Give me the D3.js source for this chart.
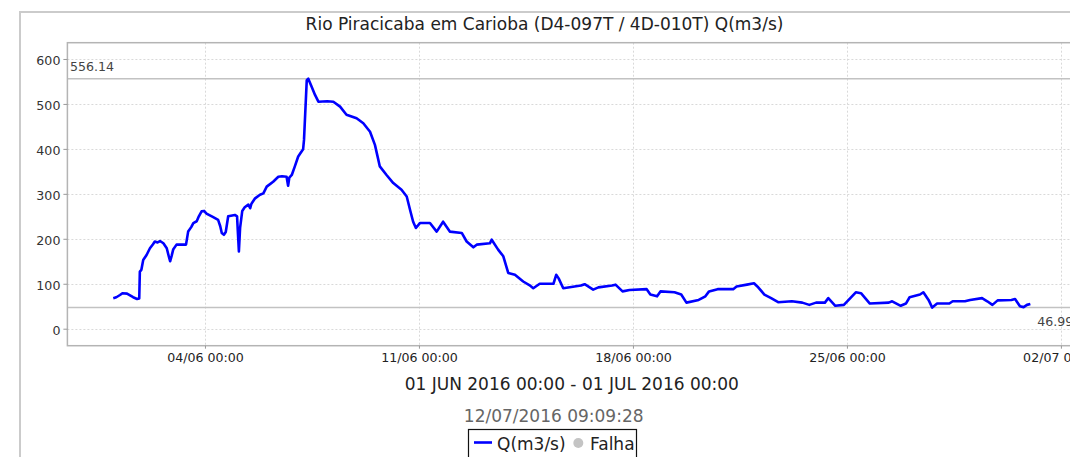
<!DOCTYPE html>
<html>
<head>
<meta charset="utf-8">
<script src="https://cdn.jsdelivr.net/npm/d3@7"></script>
<style>
  body { margin: 0; background: #fff; overflow: hidden; }
  svg { display: block; font-family: "DejaVu Sans", sans-serif; }
</style>
</head>
<body>
<svg id="chart" width="1070" height="457"></svg>
<script>
// ---- data -------------------------------------------------------------
const chartTitle = "Rio Piracicaba em Carioba (D4-097T / 4D-010T) Q(m3/s)";
const periodLabel = "01 JUN 2016 00:00 - 01 JUL 2016 00:00";
const generatedAt = "12/07/2016 09:09:28";
const seriesName = "Q(m3/s)";
const failureName = "Falha";

const periodStart = "2016-06-01T00:00:00Z";
const periodEnd = "2016-07-01T00:00:00Z";

// time of each reading, in days after periodStart
const dayOffsets = [
  0.00, 0.10, 0.22, 0.30, 0.45, 0.55, 0.65, 0.78, 0.85, 0.87,
  0.92, 0.98, 1.09, 1.20, 1.30, 1.36, 1.45, 1.53, 1.64, 1.75,
  1.82, 1.86, 1.91, 1.96, 2.07, 2.38, 2.45, 2.55, 2.62, 2.73,
  2.80, 2.89, 2.97, 3.05, 3.27, 3.43, 3.50, 3.55, 3.62, 3.68,
  3.76, 3.98, 4.05, 4.08, 4.11, 4.15, 4.22, 4.30, 4.42, 4.48,
  4.52, 4.64, 4.80, 4.91, 5.02, 5.23, 5.40, 5.52, 5.67, 5.72,
  5.76, 5.84, 5.94, 6.05, 6.21, 6.24, 6.33, 6.38, 6.49, 6.60,
  6.71, 7.00, 7.20, 7.42, 7.63, 7.96, 8.18, 8.40, 8.56, 8.64,
  8.72, 8.94, 9.16, 9.43, 9.60, 9.71, 9.81, 9.90, 10.03, 10.36,
  10.58, 10.79, 11.01, 11.40, 11.56, 11.78, 11.89, 12.32, 12.38, 12.59,
  12.76, 12.92, 13.14, 13.41, 13.61, 13.74, 13.95, 14.40, 14.49, 14.57,
  14.72, 15.30, 15.42, 15.70, 15.87, 16.32, 16.43, 16.66, 16.89, 17.45,
  17.57, 17.79, 17.90, 18.36, 18.58, 18.75, 19.15, 19.37, 19.49, 19.77,
  20.28, 20.39, 20.73, 20.96, 21.07, 21.30, 21.52, 21.75, 22.20, 22.54,
  22.77, 22.99, 23.28, 23.39, 23.62, 23.90, 24.01, 24.29, 24.46, 24.75,
  25.37, 25.48, 25.76, 25.93, 26.05, 26.39, 26.50, 26.67, 26.79, 26.95,
  27.35, 27.46, 27.86, 28.03, 28.42, 28.59, 28.76, 28.93, 29.38, 29.50,
  29.66, 29.78, 29.89, 30.00
];

// discharge Q (m3/s) at each reading
const flowValues = [
  68, 70, 75, 79, 78, 74, 70, 66, 67, 127,
  131, 153, 164, 179, 188, 194, 192, 195, 190, 179,
  160, 150, 162, 176, 187, 187, 216, 226, 235, 239,
  250, 261, 262, 256, 248, 242, 228, 213, 209, 215,
  250, 253, 250, 210, 172, 225, 262, 270, 276, 268,
  278, 290, 298, 301, 316, 327, 338, 339, 338, 318,
  336, 342, 361, 383, 399, 420, 553, 556.14, 538, 520,
  505, 506, 505, 494, 476, 468, 457, 438, 409, 385,
  361, 342, 324, 309, 294, 264, 238, 224, 235, 235,
  216, 238, 216, 213, 194, 181, 187, 190, 198, 176,
  161, 124, 120, 105, 97, 90, 100, 100, 120, 112,
  90, 96, 99, 87, 92, 96, 98, 83, 86, 88,
  76, 72, 83, 81, 76, 58, 64, 72, 83, 88,
  88, 94, 98, 101, 94, 76, 68, 59, 61, 58,
  53, 58, 58, 68, 51, 53, 61, 81, 79, 56,
  58, 61, 51, 56, 70, 76, 81, 64, 46.99, 56,
  56, 61, 61, 64, 68, 61, 53, 63, 64, 66,
  50, 48, 53, 55
];

const yTickValues = [0, 100, 200, 300, 400, 500, 600];
const xTickDates = ["2016-06-04T00:00:00Z", "2016-06-11T00:00:00Z", "2016-06-18T00:00:00Z",
                    "2016-06-25T00:00:00Z", "2016-07-02T00:00:00Z"];

// ---- layout -----------------------------------------------------------
const svg = d3.select("#chart");
const plot = { left: 67.4, top: 42.7, right: 1076.2, bottom: 345.7 };
const DAY = 86400000;

const t0 = new Date(periodStart).getTime();
const t1 = new Date(periodEnd).getTime();
const margin = (t1 - t0) * 0.05;

const x = d3.scaleUtc()
  .domain([new Date(t0 - margin), new Date(t1 + margin)])
  .range([plot.left, plot.right]);

const y = d3.scaleLinear()
  .domain([-37.8, 636.2])
  .range([plot.bottom, plot.top]);

const points = dayOffsets.map((d, i) => ({ t: new Date(t0 + d * DAY), v: flowValues[i] }));
const maxFlow = d3.max(flowValues);
const minFlow = d3.min(flowValues);

// outer frame
svg.append("rect")
  .attr("x", 20).attr("y", 12)
  .attr("width", 1120).attr("height", 500)
  .attr("fill", "none").attr("stroke", "#cbcbcb").attr("stroke-width", 2);

// title
svg.append("text")
  .attr("x", 544.5).attr("y", 30)
  .attr("text-anchor", "middle")
  .attr("font-size", 17).attr("fill", "#222")
  .text(chartTitle);

// gridlines
const grid = svg.append("g").attr("stroke", "#d9d9d9").attr("stroke-width", 1)
  .attr("stroke-dasharray", "2,2");
grid.selectAll("line.h").data(yTickValues).join("line")
  .attr("x1", plot.left).attr("x2", plot.right)
  .attr("y1", d => Math.round(y(d)) + 0.5).attr("y2", d => Math.round(y(d)) + 0.5);
grid.selectAll("line.v").data(xTickDates).join("line")
  .attr("x1", d => Math.round(x(new Date(d))) + 0.5).attr("x2", d => Math.round(x(new Date(d))) + 0.5)
  .attr("y1", plot.top).attr("y2", plot.bottom);

// range markers (series max / min)
const markers = svg.append("g").attr("stroke", "#c2c2c2").attr("stroke-width", 1.5);
[maxFlow, minFlow].forEach(v => {
  markers.append("line")
    .attr("x1", plot.left).attr("x2", plot.right)
    .attr("y1", y(v)).attr("y2", y(v));
});
svg.append("text")
  .attr("x", plot.left + 2.5).attr("y", y(maxFlow) - 8)
  .attr("font-size", 12.6).attr("fill", "#444")
  .text(maxFlow.toFixed(2));
svg.append("text")
  .attr("x", plot.right - 3).attr("y", y(minFlow) + 18)
  .attr("text-anchor", "end")
  .attr("font-size", 12.6).attr("fill", "#444")
  .text(minFlow.toFixed(2));

// plot border
svg.append("rect")
  .attr("x", plot.left).attr("y", plot.top)
  .attr("width", plot.right - plot.left).attr("height", plot.bottom - plot.top)
  .attr("fill", "none").attr("stroke", "#b4b4b4").attr("stroke-width", 1.5);

// axes
const yAxis = svg.append("g")
  .attr("transform", `translate(${plot.left},0)`)
  .call(d3.axisLeft(y).tickValues(yTickValues).tickSize(4).tickPadding(3));
yAxis.select(".domain").remove();
yAxis.selectAll(".tick line").attr("stroke", "#999");
yAxis.selectAll(".tick text")
  .attr("font-family", "DejaVu Sans").attr("font-size", 12.6)
  .attr("fill", "#333").attr("dy", "0.42em");

const fmt = d3.utcFormat("%d/%m %H:%M");
const xAxis = svg.append("g")
  .attr("transform", `translate(0,${plot.bottom})`)
  .call(d3.axisBottom(x).tickValues(xTickDates.map(d => new Date(d)))
    .tickFormat(fmt).tickSize(3).tickPadding(4.4));
xAxis.select(".domain").remove();
xAxis.selectAll(".tick line").attr("stroke", "#999");
xAxis.selectAll(".tick text")
  .attr("font-family", "DejaVu Sans").attr("font-size", 12.6).attr("fill", "#222");

// series line
svg.append("path")
  .datum(points)
  .attr("fill", "none")
  .attr("stroke", "#0000ff")
  .attr("stroke-width", 2.6)
  .attr("stroke-linejoin", "round")
  .attr("d", d3.line().x(d => x(d.t)).y(d => y(d.v)));

// period and timestamp
svg.append("text")
  .attr("x", (plot.left + plot.right) / 2).attr("y", 390)
  .attr("text-anchor", "middle")
  .attr("font-size", 17).attr("fill", "#222")
  .text(periodLabel);
svg.append("text")
  .attr("x", 553.7).attr("y", 421.7)
  .attr("text-anchor", "middle")
  .attr("font-size", 17).attr("fill", "#666")
  .text(generatedAt);

// legend
const legend = svg.append("g");
legend.append("rect")
  .attr("x", 468.5).attr("y", 429.5)
  .attr("width", 168).attr("height", 40)
  .attr("fill", "#fff").attr("stroke", "#111").attr("stroke-width", 1.2);
legend.append("line")
  .attr("x1", 474).attr("x2", 492).attr("y1", 442.5).attr("y2", 442.5)
  .attr("stroke", "#0000ff").attr("stroke-width", 2.6);
legend.append("text")
  .attr("x", 497).attr("y", 449.5)
  .attr("font-size", 17).attr("fill", "#222")
  .text(seriesName);
legend.append("circle")
  .attr("cx", 578.3).attr("cy", 443).attr("r", 5)
  .attr("fill", "#c4c4c4");
legend.append("text")
  .attr("x", 590).attr("y", 449.5)
  .attr("font-size", 17).attr("fill", "#222")
  .text(failureName);
</script>
</body>
</html>
